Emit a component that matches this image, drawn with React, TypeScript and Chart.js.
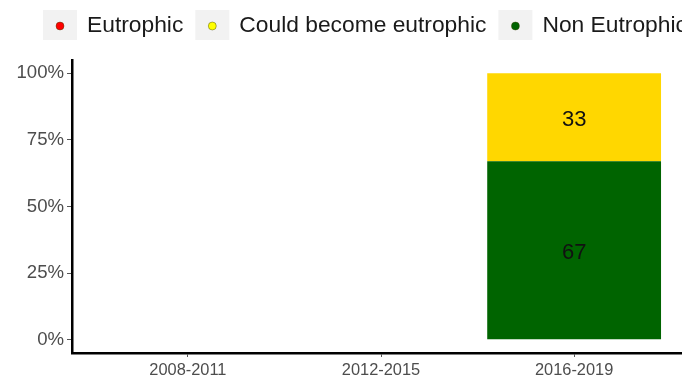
import React, { useEffect, useRef } from "react";
import { Chart, registerables } from "chart.js";

Chart.register(...registerables);

// ---- data ----
const categories = ["2008-2011", "2012-2015", "2016-2019"];
const nonEutrophic = [null, null, 67];
const couldBecome = [null, null, 33];
const eutrophic = [null, null, null];
const yTicks = [0, 25, 50, 75, 100];
const legendLabels = ["Eutrophic", "Could become eutrophic", "Non Eutrophic"];
const legendDotColors = ["#ff0000", "#ffff00", "#006400"];

const FONT = '"Liberation Sans", Arial, Helvetica, sans-serif';

const toPoints = (arr: (number | null)[]) =>
  arr.map((v, i) => ({ x: i + 1, y: v }));

const legendPlugin = {
  id: "ggLegend",
  afterDraw(chart: any) {
    const ctx = chart.ctx as CanvasRenderingContext2D;
    ctx.save();
    ctx.font = `22.8px ${FONT}`;
    ctx.textAlign = "left";
    ctx.textBaseline = "middle";
    let x = 43;
    const cy = 25;
    legendLabels.forEach((lab, i) => {
      ctx.fillStyle = "#f2f2f2";
      ctx.fillRect(x, cy - 15, 34, 30);
      ctx.beginPath();
      ctx.arc(x + 17, cy + 1, 4, 0, Math.PI * 2);
      ctx.fillStyle = legendDotColors[i];
      ctx.fill();
      ctx.lineWidth = 0.7;
      ctx.strokeStyle = "rgba(60,60,0,0.6)";
      ctx.stroke();
      ctx.fillStyle = "#1a1a1a";
      ctx.fillText(lab, x + 44, cy + 1);
      x += 44 + ctx.measureText(lab).width + 12;
    });
    ctx.restore();
  },
};

const valueLabelPlugin = {
  id: "valueLabels",
  afterDatasetsDraw(chart: any) {
    const ctx = chart.ctx as CanvasRenderingContext2D;
    ctx.save();
    ctx.font = `22px ${FONT}`;
    ctx.fillStyle = "#111";
    ctx.textAlign = "center";
    ctx.textBaseline = "middle";
    chart.data.datasets.forEach((ds: any, di: number) => {
      const meta = chart.getDatasetMeta(di);
      meta.data.forEach((el: any, j: number) => {
        const v = ds.data[j]?.y;
        if (v === null || v === undefined) return;
        ctx.fillText(String(v), el.x, (el.y + el.base) / 2 + 3);
      });
    });
    ctx.restore();
  },
};

export default function App() {
  const ref = useRef<HTMLCanvasElement | null>(null);

  useEffect(() => {
    if (!ref.current) return;
    const chart = new Chart(ref.current, {
      type: "bar",
      data: {
        datasets: [
          {
            label: "Non Eutrophic",
            data: toPoints(nonEutrophic) as any,
            backgroundColor: "#006400",
            barPercentage: 0.9,
            categoryPercentage: 1,
          },
          {
            label: "Could become eutrophic",
            data: toPoints(couldBecome) as any,
            backgroundColor: "#ffd700",
            barPercentage: 0.9,
            categoryPercentage: 1,
          },
          {
            label: "Eutrophic",
            data: toPoints(eutrophic) as any,
            backgroundColor: "#ff0000",
            barPercentage: 0.9,
            categoryPercentage: 1,
          },
        ],
      },
      options: {
        responsive: false,
        animation: false,
        devicePixelRatio: 1,
        layout: { padding: { top: 60, right: 10, bottom: 0, left: 0 } },
        plugins: {
          legend: { display: false },
          tooltip: { enabled: false },
        },
        scales: {
          x: {
            type: "linear",
            stacked: true,
            offset: false,
            min: 0.4,
            max: 3.6,
            afterBuildTicks: (scale: any) => {
              scale.ticks = categories.map((_, i) => ({ value: i + 1 }));
            },
            afterFit: (scale: any) => {
              scale.height = 27;
            },
            ticks: {
              callback: (v: any) => categories[Number(v) - 1] ?? "",
              font: { size: 16.4, family: FONT },
              color: "#4d4d4d",
              padding: 4,
              maxRotation: 0,
              autoSkip: false,
            },
            grid: {
              offset: false,
              drawOnChartArea: false,
              drawTicks: true,
              tickLength: 4,
              tickColor: "#555",
              tickWidth: 1,
            },
            border: { display: true, color: "#000", width: 2.5 },
          },
          y: {
            type: "linear",
            stacked: true,
            min: -5,
            max: 105,
            afterBuildTicks: (scale: any) => {
              scale.ticks = yTicks.map((v) => ({ value: v }));
            },
            afterFit: (scale: any) => {
              scale.width = 72;
            },
            ticks: {
              callback: (v: any) => `${v}%`,
              font: { size: 18.6, family: FONT },
              color: "#4d4d4d",
              padding: 3,
            },
            grid: {
              drawOnChartArea: false,
              drawTicks: true,
              tickLength: 5,
              tickColor: "#555",
              tickWidth: 1,
            },
            border: { display: true, color: "#000", width: 2.5 },
          },
        },
      },
      plugins: [legendPlugin, valueLabelPlugin],
    } as any);
    return () => chart.destroy();
  }, []);

  return (
    <div
      style={{
        position: "absolute",
        left: 0,
        top: 0,
        width: 682,
        height: 380,
        overflow: "hidden",
        background: "#fff",
      }}
    >
      <canvas ref={ref} width={700} height={380} style={{ display: "block" }} />
    </div>
  );
}
